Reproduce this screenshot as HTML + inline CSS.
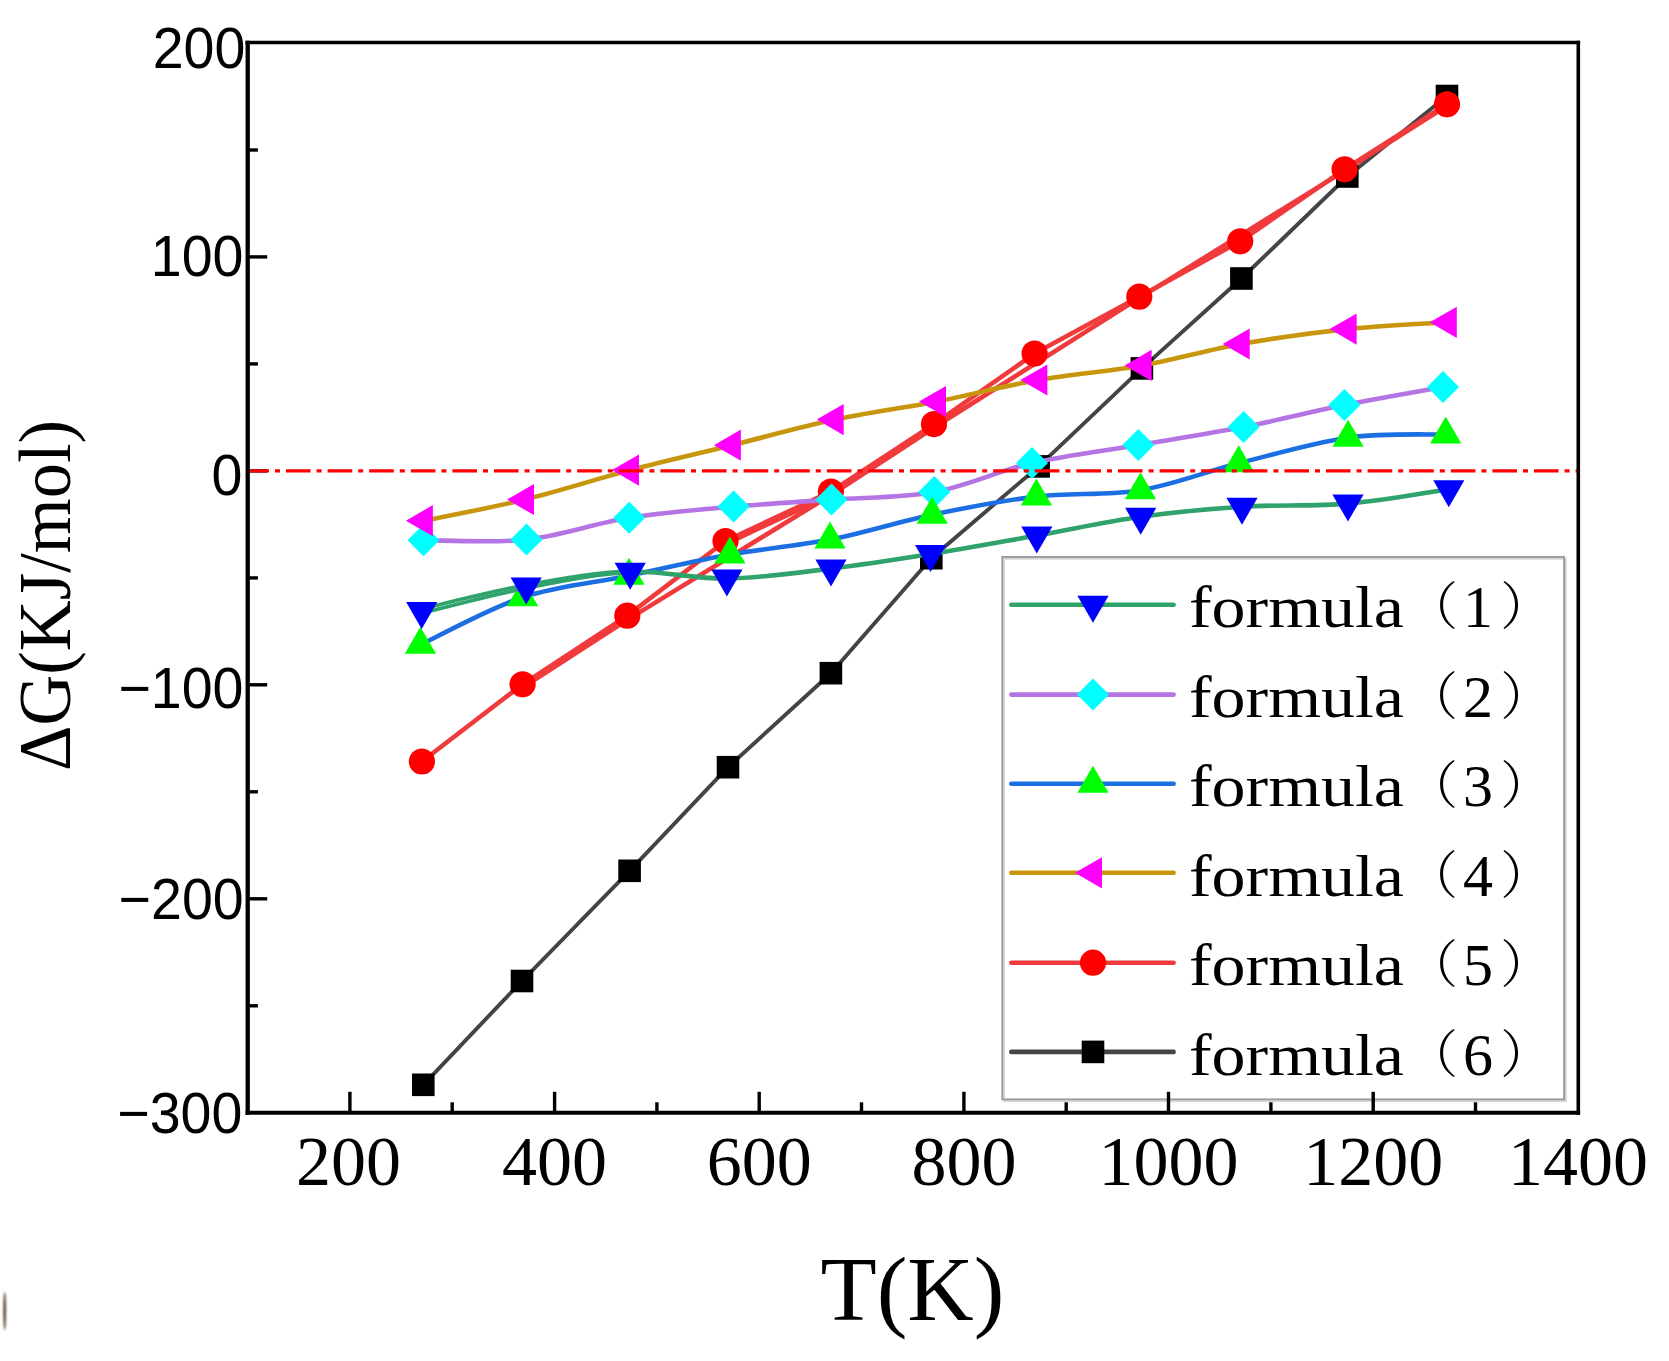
<!DOCTYPE html>
<html lang="en"><head><meta charset="utf-8"><title>ΔG vs T</title>
<style>html,body{margin:0;padding:0;background:#fff;}body{width:1669px;height:1361px;overflow:hidden;}svg{display:block;}.yt{font-family:"Liberation Sans",Arial,sans-serif;font-size:57.5px;fill:#000;text-anchor:end;}.xt{font-family:"Liberation Serif","Times New Roman",serif;font-size:70px;fill:#000;text-anchor:middle;}.lg{font-family:"Liberation Serif","Times New Roman",serif;font-size:60px;fill:#000;}.pr{font-family:"Liberation Serif","Noto Serif CJK SC",serif;font-size:51.4px;font-weight:300;fill:#000;}.ti{font-family:"Liberation Serif","Times New Roman",serif;fill:#000;text-anchor:middle;}</style></head><body>
<svg width="1669" height="1361" viewBox="0 0 1669 1361">
<rect width="1669" height="1361" fill="#fff"/>
<defs><filter id="bl" x="-200%" y="-50%" width="500%" height="200%"><feGaussianBlur stdDeviation="1.2"/></filter></defs>
<ellipse cx="4.7" cy="1311" rx="1.4" ry="19" fill="#5a4636" filter="url(#bl)"/>
<rect x="1002.3" y="557.0" width="561.8" height="542.4" fill="#fff"/>
<rect x="1004.0999999999999" y="558.8" width="561.8" height="542.4" fill="none" stroke="#d6d6d6" stroke-width="1.8"/>
<rect x="1002.3" y="557.0" width="561.8" height="542.4" fill="none" stroke="#9a9a9a" stroke-width="1.9"/>
<g fill="none" stroke-linejoin="round" stroke-linecap="butt"><path d="M423.3,1084.8 L522.0,981.0 L629.6,870.8 L728.0,767.2 L830.9,673.2 L931.3,558.2 L1038.6,466.4 L1141.9,368.4 L1241.4,278.5 L1347.3,176.5 L1447.0,96.0" stroke="#444444" stroke-width="3.9"/></g><g><rect x="412.0" y="1073.5" width="22.6" height="22.6" fill="#000000"/><rect x="510.7" y="969.7" width="22.6" height="22.6" fill="#000000"/><rect x="618.3" y="859.5" width="22.6" height="22.6" fill="#000000"/><rect x="716.7" y="755.9" width="22.6" height="22.6" fill="#000000"/><rect x="819.6" y="661.9" width="22.6" height="22.6" fill="#000000"/><rect x="920.0" y="546.9" width="22.6" height="22.6" fill="#000000"/><rect x="1027.3" y="455.1" width="22.6" height="22.6" fill="#000000"/><rect x="1130.6" y="357.1" width="22.6" height="22.6" fill="#000000"/><rect x="1230.1" y="267.2" width="22.6" height="22.6" fill="#000000"/><rect x="1336.0" y="165.2" width="22.6" height="22.6" fill="#000000"/><rect x="1435.7" y="84.7" width="22.6" height="22.6" fill="#000000"/></g>
<g fill="none" stroke-linejoin="round" stroke-linecap="butt"><path d="M524.1,686.6 L629.2,618.6 L832.5,494.0 L935.6,426.5 L1139.9,297.6 L1345.3,170.4 L1447.7,105.4" stroke="#F03A3C" stroke-width="4.6"/><path d="M727.0,543.3 L832.5,494.0" stroke="#F03A3C" stroke-width="4.6"/><path d="M421.9,761.5 L522.6,684.3 L627.3,615.7 L725.5,541.0 L830.9,491.6 L934.0,424.1 L1034.6,353.6 L1139.3,296.7 L1240.2,241.3 L1344.6,169.3 L1447.0,104.3" stroke="#F03A3C" stroke-width="4.6"/></g><g><circle cx="421.9" cy="761.5" r="13.1" fill="#FF0000"/><circle cx="522.6" cy="684.3" r="13.1" fill="#FF0000"/><circle cx="627.3" cy="615.7" r="13.1" fill="#FF0000"/><circle cx="725.5" cy="541.0" r="13.1" fill="#FF0000"/><circle cx="830.9" cy="491.6" r="13.1" fill="#FF0000"/><circle cx="934.0" cy="424.1" r="13.1" fill="#FF0000"/><circle cx="1034.6" cy="353.6" r="13.1" fill="#FF0000"/><circle cx="1139.3" cy="296.7" r="13.1" fill="#FF0000"/><circle cx="1240.2" cy="241.3" r="13.1" fill="#FF0000"/><circle cx="1344.6" cy="169.3" r="13.1" fill="#FF0000"/><circle cx="1447.0" cy="104.3" r="13.1" fill="#FF0000"/></g>
<g fill="none" stroke-linejoin="round" stroke-linecap="butt"><path d="M423.5,540.2 C440.7,540.1 492.2,543.3 526.5,539.6 C560.8,535.9 594.7,523.3 629.2,517.8 C663.7,512.3 699.9,509.6 733.6,506.6 C767.3,503.6 798.0,502.0 831.5,499.6 C865.0,497.2 900.9,498.1 934.3,492.0 C967.7,485.9 998.0,470.8 1032.0,463.0 C1066.0,455.2 1103.0,451.0 1138.3,445.0 C1173.6,439.0 1209.2,433.6 1243.6,427.0 C1277.9,420.4 1311.2,411.8 1344.4,405.1 C1377.6,398.5 1426.6,390.1 1443.0,387.1" stroke="#B574E4" stroke-width="4.6"/></g><g><polygon points="407.5,540.2 423.5,524.2 439.5,540.2 423.5,556.2" fill="#00FFFF"/><polygon points="510.5,539.6 526.5,523.6 542.5,539.6 526.5,555.6" fill="#00FFFF"/><polygon points="613.2,517.8 629.2,501.8 645.2,517.8 629.2,533.8" fill="#00FFFF"/><polygon points="717.6,506.6 733.6,490.6 749.6,506.6 733.6,522.6" fill="#00FFFF"/><polygon points="815.5,499.6 831.5,483.6 847.5,499.6 831.5,515.6" fill="#00FFFF"/><polygon points="918.3,492.0 934.3,476.0 950.3,492.0 934.3,508.0" fill="#00FFFF"/><polygon points="1016.0,463.0 1032.0,447.0 1048.0,463.0 1032.0,479.0" fill="#00FFFF"/><polygon points="1122.3,445.0 1138.3,429.0 1154.3,445.0 1138.3,461.0" fill="#00FFFF"/><polygon points="1227.6,427.0 1243.6,411.0 1259.6,427.0 1243.6,443.0" fill="#00FFFF"/><polygon points="1328.4,405.1 1344.4,389.1 1360.4,405.1 1344.4,421.1" fill="#00FFFF"/><polygon points="1427.0,387.1 1443.0,371.1 1459.0,387.1 1443.0,403.1" fill="#00FFFF"/></g>
<g fill="none" stroke-linejoin="round" stroke-linecap="butt"><path d="M420.4,644.8 C437.4,636.9 487.8,608.8 522.6,597.3 C557.4,585.8 594.5,582.8 629.0,575.7 C663.5,568.6 696.4,560.6 729.9,554.6 C763.4,548.6 796.3,546.2 830.0,539.6 C863.7,533.0 897.8,521.9 932.2,514.7 C966.6,507.5 1001.7,500.7 1036.4,496.6 C1071.1,492.5 1106.8,495.8 1140.5,490.2 C1174.2,484.6 1204.1,472.1 1238.7,463.3 C1273.3,454.6 1313.6,442.5 1348.1,437.7 C1382.6,432.9 1429.4,434.9 1445.7,434.4" stroke="#1C6FE3" stroke-width="4.6"/></g><g><polygon points="404.8,653.8 436.0,653.8 420.4,626.8" fill="#00FF00"/><polygon points="507.0,606.3 538.2,606.3 522.6,579.3" fill="#00FF00"/><polygon points="613.4,584.7 644.6,584.7 629.0,557.7" fill="#00FF00"/><polygon points="714.3,563.6 745.5,563.6 729.9,536.6" fill="#00FF00"/><polygon points="814.4,548.6 845.6,548.6 830.0,521.6" fill="#00FF00"/><polygon points="916.6,523.7 947.8,523.7 932.2,496.7" fill="#00FF00"/><polygon points="1020.8,505.6 1052.0,505.6 1036.4,478.6" fill="#00FF00"/><polygon points="1124.9,499.2 1156.1,499.2 1140.5,472.2" fill="#00FF00"/><polygon points="1223.1,472.3 1254.3,472.3 1238.7,445.3" fill="#00FF00"/><polygon points="1332.5,446.7 1363.7,446.7 1348.1,419.7" fill="#00FF00"/><polygon points="1430.1,443.4 1461.3,443.4 1445.7,416.4" fill="#00FF00"/></g>
<g fill="none" stroke-linejoin="round" stroke-linecap="butt"><path d="M423.9,520.7 C440.8,517.2 490.6,507.9 525.0,499.5 C559.4,491.1 595.5,479.2 630.0,470.1 C664.5,461.1 697.8,453.6 731.9,445.2 C766.0,436.8 800.5,426.9 834.7,419.6 C868.9,412.3 903.0,408.1 937.0,401.5 C971.0,394.9 1004.1,386.0 1038.4,380.0 C1072.7,374.0 1108.9,371.4 1142.6,365.4 C1176.3,359.4 1206.5,350.1 1240.7,344.0 C1274.9,337.9 1313.1,332.7 1347.6,329.1 C1382.1,325.5 1431.1,323.4 1447.8,322.3" stroke="#C8960C" stroke-width="4.6"/></g><g><polygon points="432.9,505.1 432.9,536.3 405.9,520.7" fill="#FF00FF"/><polygon points="534.0,483.9 534.0,515.1 507.0,499.5" fill="#FF00FF"/><polygon points="639.0,454.5 639.0,485.7 612.0,470.1" fill="#FF00FF"/><polygon points="740.9,429.6 740.9,460.8 713.9,445.2" fill="#FF00FF"/><polygon points="843.7,404.0 843.7,435.2 816.7,419.6" fill="#FF00FF"/><polygon points="946.0,385.9 946.0,417.1 919.0,401.5" fill="#FF00FF"/><polygon points="1047.4,364.4 1047.4,395.6 1020.4,380.0" fill="#FF00FF"/><polygon points="1151.6,349.8 1151.6,381.0 1124.6,365.4" fill="#FF00FF"/><polygon points="1249.7,328.4 1249.7,359.6 1222.7,344.0" fill="#FF00FF"/><polygon points="1356.6,313.5 1356.6,344.7 1329.6,329.1" fill="#FF00FF"/><polygon points="1456.8,306.7 1456.8,337.9 1429.8,322.3" fill="#FF00FF"/></g>
<g fill="none" stroke-linejoin="round" stroke-linecap="butt"><path d="M421.7,608.9 C439.1,604.9 491.5,591.3 526.2,585.0 C561.0,578.7 596.8,572.3 630.2,571.2" stroke="#2FA36B" stroke-width="3.7"/><path d="M421.7,613.1 C439.1,609.0 491.5,595.0 526.2,588.2 C561.0,581.4 596.8,574.0 630.2,572.4" stroke="#2FA36B" stroke-width="3.7"/><path d="M630.2,571.8 C663.7,570.5 693.4,579.1 726.9,578.6 C760.4,578.1 797.0,572.7 831.0,568.6 C865.0,564.5 896.3,559.6 930.6,554.1 C964.9,548.6 1001.8,541.7 1036.8,535.5 C1071.8,529.3 1106.5,521.6 1140.7,516.8 C1174.9,512.0 1207.5,508.9 1242.0,506.7 C1276.5,504.5 1313.5,506.5 1348.0,503.6 C1382.5,500.7 1432.0,491.6 1448.8,489.2" stroke="#2FA36B" stroke-width="4.6"/></g><g><polygon points="406.1,602.0 437.3,602.0 421.7,629.0" fill="#0000FF"/><polygon points="510.6,577.6 541.8,577.6 526.2,604.6" fill="#0000FF"/><polygon points="614.6,562.8 645.8,562.8 630.2,589.8" fill="#0000FF"/><polygon points="711.3,569.6 742.5,569.6 726.9,596.6" fill="#0000FF"/><polygon points="815.4,559.6 846.6,559.6 831.0,586.6" fill="#0000FF"/><polygon points="915.0,545.1 946.2,545.1 930.6,572.1" fill="#0000FF"/><polygon points="1021.2,526.5 1052.4,526.5 1036.8,553.5" fill="#0000FF"/><polygon points="1125.1,507.8 1156.3,507.8 1140.7,534.8" fill="#0000FF"/><polygon points="1226.4,497.7 1257.6,497.7 1242.0,524.7" fill="#0000FF"/><polygon points="1332.4,494.6 1363.6,494.6 1348.0,521.6" fill="#0000FF"/><polygon points="1433.2,480.2 1464.4,480.2 1448.8,507.2" fill="#0000FF"/></g>
<line x1="1011.3" y1="604.7" x2="1173.6" y2="604.7" stroke="#2FA36B" stroke-width="4.6" stroke-linecap="round"/>
<polygon points="1077.4,595.7 1108.6,595.7 1093.0,622.7" fill="#0000FF"/>
<text class="lg" x="1189" y="627.4" textLength="215" lengthAdjust="spacingAndGlyphs">formula</text>
<text class="pr" x="1406.5" y="625.4">（</text>
<text class="lg" x="1463" y="627.4" font-size="62">1</text>
<text class="pr" x="1500.3" y="625.4">）</text>
<line x1="1011.3" y1="694.6" x2="1173.6" y2="694.6" stroke="#B574E4" stroke-width="4.6" stroke-linecap="round"/>
<polygon points="1077.0,694.6 1093.0,678.6 1109.0,694.6 1093.0,710.6" fill="#00FFFF"/>
<text class="lg" x="1189" y="717.3" textLength="215" lengthAdjust="spacingAndGlyphs">formula</text>
<text class="pr" x="1406.5" y="715.3">（</text>
<text class="lg" x="1463" y="717.3" font-size="62">2</text>
<text class="pr" x="1500.3" y="715.3">）</text>
<line x1="1011.3" y1="783.7" x2="1173.6" y2="783.7" stroke="#1C6FE3" stroke-width="4.6" stroke-linecap="round"/>
<polygon points="1077.4,792.7 1108.6,792.7 1093.0,765.7" fill="#00FF00"/>
<text class="lg" x="1189" y="806.4" textLength="215" lengthAdjust="spacingAndGlyphs">formula</text>
<text class="pr" x="1406.5" y="804.4">（</text>
<text class="lg" x="1463" y="806.4" font-size="62">3</text>
<text class="pr" x="1500.3" y="804.4">）</text>
<line x1="1011.3" y1="872.8" x2="1173.6" y2="872.8" stroke="#C8960C" stroke-width="4.6" stroke-linecap="round"/>
<polygon points="1102.0,857.2 1102.0,888.4 1075.0,872.8" fill="#FF00FF"/>
<text class="lg" x="1189" y="895.5" textLength="215" lengthAdjust="spacingAndGlyphs">formula</text>
<text class="pr" x="1406.5" y="893.5">（</text>
<text class="lg" x="1463" y="895.5" font-size="62">4</text>
<text class="pr" x="1500.3" y="893.5">）</text>
<line x1="1011.3" y1="962.7" x2="1173.6" y2="962.7" stroke="#F03A3C" stroke-width="4.6" stroke-linecap="round"/>
<circle cx="1093.0" cy="962.7" r="13.1" fill="#FF0000"/>
<text class="lg" x="1189" y="985.4" textLength="215" lengthAdjust="spacingAndGlyphs">formula</text>
<text class="pr" x="1406.5" y="983.4">（</text>
<text class="lg" x="1463" y="985.4" font-size="62">5</text>
<text class="pr" x="1500.3" y="983.4">）</text>
<line x1="1011.3" y1="1051.9" x2="1173.6" y2="1051.9" stroke="#444444" stroke-width="4.6" stroke-linecap="round"/>
<rect x="1081.7" y="1040.6" width="22.6" height="22.6" fill="#000000"/>
<text class="lg" x="1189" y="1074.6" textLength="215" lengthAdjust="spacingAndGlyphs">formula</text>
<text class="pr" x="1406.5" y="1072.6">（</text>
<text class="lg" x="1463" y="1074.6" font-size="62">6</text>
<text class="pr" x="1500.3" y="1072.6">）</text>
<g stroke="#000" stroke-width="3.4">
<line x1="349.9" y1="1112.8" x2="349.9" y2="1091.8"/>
<line x1="452.2" y1="1112.8" x2="452.2" y2="1102.3"/>
<line x1="554.6" y1="1112.8" x2="554.6" y2="1091.8"/>
<line x1="656.9" y1="1112.8" x2="656.9" y2="1102.3"/>
<line x1="759.2" y1="1112.8" x2="759.2" y2="1091.8"/>
<line x1="861.5" y1="1112.8" x2="861.5" y2="1102.3"/>
<line x1="963.9" y1="1112.8" x2="963.9" y2="1091.8"/>
<line x1="1066.2" y1="1112.8" x2="1066.2" y2="1102.3"/>
<line x1="1168.5" y1="1112.8" x2="1168.5" y2="1091.8"/>
<line x1="1270.9" y1="1112.8" x2="1270.9" y2="1102.3"/>
<line x1="1373.2" y1="1112.8" x2="1373.2" y2="1091.8"/>
<line x1="1475.5" y1="1112.8" x2="1475.5" y2="1102.3"/>
<line x1="247.7" y1="1005.8" x2="257.9" y2="1005.8"/>
<line x1="247.7" y1="898.8" x2="267.2" y2="898.8"/>
<line x1="247.7" y1="791.8" x2="257.9" y2="791.8"/>
<line x1="247.7" y1="684.8" x2="267.2" y2="684.8"/>
<line x1="247.7" y1="577.9" x2="257.9" y2="577.9"/>
<line x1="247.7" y1="470.9" x2="267.2" y2="470.9"/>
<line x1="247.7" y1="363.9" x2="257.9" y2="363.9"/>
<line x1="247.7" y1="256.9" x2="267.2" y2="256.9"/>
<line x1="247.7" y1="150.0" x2="257.9" y2="150.0"/>
</g>
<path d="M247.7,470.9 H1578.3" fill="none" stroke="#FF0000" stroke-width="3.2" stroke-dasharray="24.6 6 5 6" stroke-dashoffset="3.3"/>
<g stroke="#000" stroke-linecap="butt"><line x1="247.7" y1="40.7" x2="247.7" y2="1114.8" stroke-width="4.3"/><line x1="245.54999999999998" y1="1112.8" x2="1580.1" y2="1112.8" stroke-width="4.0"/><line x1="245.54999999999998" y1="42.5" x2="1580.1" y2="42.5" stroke-width="3.6"/><line x1="1578.3" y1="40.7" x2="1578.3" y2="1114.8" stroke-width="3.6"/></g>
<text class="yt" transform="translate(245.3,68.3) scale(0.966,1)">200</text>
<text class="yt" transform="translate(243.5,275.7) scale(0.966,1)">100</text>
<text class="yt" transform="translate(242.3,495.4) scale(0.966,1)">0</text>
<text class="yt" transform="translate(243.5,708.1) scale(0.966,1)">−100</text>
<text class="yt" transform="translate(243.7,919.3) scale(0.966,1)">−200</text>
<text class="yt" transform="translate(242.3,1132.9) scale(0.966,1)">−300</text>
<text class="xt" x="348.4" y="1185.3">200</text>
<text class="xt" x="554.6" y="1185.3">400</text>
<text class="xt" x="759.2" y="1185.3">600</text>
<text class="xt" x="963.9" y="1185.3">800</text>
<text class="xt" x="1168.5" y="1185.3">1000</text>
<text class="xt" x="1373.2" y="1185.3">1200</text>
<text class="xt" x="1577.9" y="1185.3">1400</text>
<text class="ti" x="912.5" y="1320.1" font-size="92">T(K)</text>
<text class="ti" transform="translate(69.7,595.5) rotate(-90)" font-size="73" textLength="351" lengthAdjust="spacingAndGlyphs">ΔG(KJ/mol)</text>
</svg></body></html>
